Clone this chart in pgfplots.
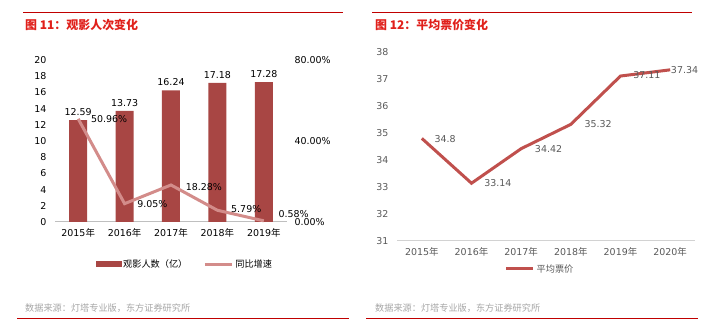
\documentclass[border=0pt]{standalone}
\usepackage{fontspec}
\setmainfont{DejaVu Sans}
\newfontfamily\cjk{Noto Sans CJK SC}
\usepackage{pgfplots}
\usepackage{pgfplotstable}
\pgfplotsset{compat=1.18}
\definecolor{barred}{HTML}{A84644}
\definecolor{linepink}{HTML}{D38C8A}
\definecolor{linered}{HTML}{C0504D}
\definecolor{rulered}{HTML}{C00000}
\definecolor{titlered}{HTML}{E0201B}
\definecolor{srcgray}{HTML}{A6A6A6}
\definecolor{axgray}{HTML}{BFBFBF}
\definecolor{txtgray}{HTML}{595959}

\pgfplotstableread{
x y lab
0 12.59 12.59
1 13.73 13.73
2 16.24 16.24
3 17.18 17.18
4 17.28 17.28
}\bars

\pgfplotstableread{
x y lab dx dy
0 50.96 50.96\% 8 0
1 9.05 9.05\% 8 0
2 18.28 18.28\% 10 -2
3 5.79 5.79\% 9 1
4 0.58 0.58\% 10 7
}\growth

\pgfplotstableread{
x y lab dx dy
0 34.80 34.8 8 -1
1 33.14 33.14 8 0
2 34.42 34.42 9 0
3 35.32 35.32 9 0
4 37.11 37.11 8 1
5 37.34 37.34 -4 0
}\price

\begin{document}
\begin{tikzpicture}[x=1bp,y=1bp]
\path[use as bounding box] (0bp,0bp) rectangle (716bp,324bp);

% rules
\draw[rulered, line width=1bp] (23bp,311bp) -- (343bp,311bp);
\draw[rulered, line width=1bp] (372bp,311bp) -- (692bp,311bp);
\draw[rulered, line width=1bp] (17bp,5bp) -- (349bp,5bp);
\draw[rulered, line width=1bp] (366bp,5bp) -- (698bp,5bp);

% titles
\node[anchor=west, inner sep=0, text=titlered, font=\cjk\bfseries\fontsize{12}{14}\selectfont] at (25bp,299bp) {图\ 11：观影人次变化};
\node[anchor=west, inner sep=0, text=titlered, font=\cjk\bfseries\fontsize{12}{14}\selectfont] at (375bp,299bp) {图\ 12：平均票价变化};

% sources
\node[anchor=west, inner sep=0, text=srcgray, font=\cjk\fontsize{9.2}{10}\selectfont] at (25bp,16bp) {数据来源：灯塔专业版，东方证券研究所};
\node[anchor=west, inner sep=0, text=srcgray, font=\cjk\fontsize{9.2}{10}\selectfont] at (375bp,16bp) {数据来源：灯塔专业版，东方证券研究所};

% ---------- left chart: bars ----------
\begin{axis}[
  at={(55bp,102bp)}, anchor=south west, scale only axis,
  width=232bp, height=162bp,
  xmin=-0.5, xmax=4.5, ymin=0, ymax=20,
  ytick={0,2,...,20},
  xtick={0,1,2,3,4},
  xticklabels={2015{\cjk 年},2016{\cjk 年},2017{\cjk 年},2018{\cjk 年},2019{\cjk 年}},
  axis x line*=bottom, axis y line*=left,
  y axis line style={draw=none},
  x axis line style={draw=axgray, line width=1bp, -},
  major tick style={draw=none},
  /pgf/number format/assume math mode=true,
  tick label style={font=\fontsize{9.5}{10}\selectfont, text=black},
  yticklabel style={xshift=-5bp},
  xticklabel style={yshift=-3bp},
  clip=false,
]
\addplot[ybar, bar width=18bp, fill=barred, draw=none,
  nodes near coords, point meta=explicit symbolic,
  nodes near coords style={font=\fontsize{9.5}{10}\selectfont, text=black, anchor=south, yshift=1bp}]
  table[x=x, y=y, meta=lab] {\bars};
\end{axis}

% ---------- left chart: growth line ----------
\begin{axis}[
  at={(55bp,102bp)}, anchor=south west, scale only axis,
  width=232bp, height=162bp,
  xmin=-0.5, xmax=4.5, ymin=0, ymax=80,
  ytick={0,40,80},
  yticklabels={0.00\%,40.00\%,80.00\%},
  axis y line*=right, hide x axis,
  y axis line style={draw=none},
  major tick style={draw=none},
  tick label style={font=\fontsize{9.5}{10}\selectfont, text=black},
  yticklabel style={xshift=4bp},
  clip=false,
  legend style={at={(0.56,-0.26)}, anchor=center, draw=none, fill=none,
    legend columns=2, font=\cjk\fontsize{9.2}{10}\selectfont,
    /tikz/every even column/.append style={column sep=14bp}},
]
\addlegendimage{legend image code/.code={\fill[barred] (0bp,-2.5bp) rectangle (25bp,2.5bp);}}
\addlegendentry{观影人数（亿）}
\addplot[linepink, line width=3bp, mark=none,
  legend image code/.code={\draw[linepink, line width=3bp] (0bp,0bp) -- (27bp,0bp);},
  nodes near coords, point meta=explicit symbolic,
  visualization depends on={\thisrow{dx} \as \dx},
  visualization depends on={\thisrow{dy} \as \dy},
  nodes near coords style={font=\fontsize{9.5}{10}\selectfont, text=black, anchor=west, xshift=\dx bp, yshift=\dy bp}]
  table[x=x, y=y, meta=lab] {\growth};
\addlegendentry{同比增速}
\end{axis}

% ---------- right chart ----------
\begin{axis}[
  at={(397bp,83bp)}, anchor=south west, scale only axis,
  width=298bp, height=189bp,
  xmin=-0.5, xmax=5.5, ymin=31, ymax=38,
  ytick={31,32,...,38},
  xtick={0,1,2,3,4,5},
  xticklabels={2015{\cjk 年},2016{\cjk 年},2017{\cjk 年},2018{\cjk 年},2019{\cjk 年},2020{\cjk 年}},
  axis x line*=bottom, axis y line*=left,
  y axis line style={draw=none},
  x axis line style={draw=axgray!70, line width=1bp, -},
  major tick style={draw=none},
  /pgf/number format/assume math mode=true,
  tick label style={font=\fontsize{9.5}{10}\selectfont, text=txtgray},
  yticklabel style={xshift=-5bp},
  xticklabel style={yshift=-3bp},
  clip=false,
  legend style={at={(0.48,-0.148)}, anchor=center, draw=none, fill=none,
    font=\cjk\fontsize{9.2}{10}\selectfont, text=txtgray},
]
\addplot[linered, line width=3bp, mark=none,
  legend image code/.code={\draw[linered, line width=3bp] (0bp,0bp) -- (27bp,0bp);},
  nodes near coords, point meta=explicit symbolic,
  visualization depends on={\thisrow{dx} \as \dx},
  visualization depends on={\thisrow{dy} \as \dy},
  nodes near coords style={font=\fontsize{9.5}{10}\selectfont, text=txtgray, anchor=west, xshift=\dx bp, yshift=\dy bp}]
  table[x=x, y=y, meta=lab] {\price};
\addlegendentry{平均票价}
\end{axis}
\end{tikzpicture}
\end{document}
